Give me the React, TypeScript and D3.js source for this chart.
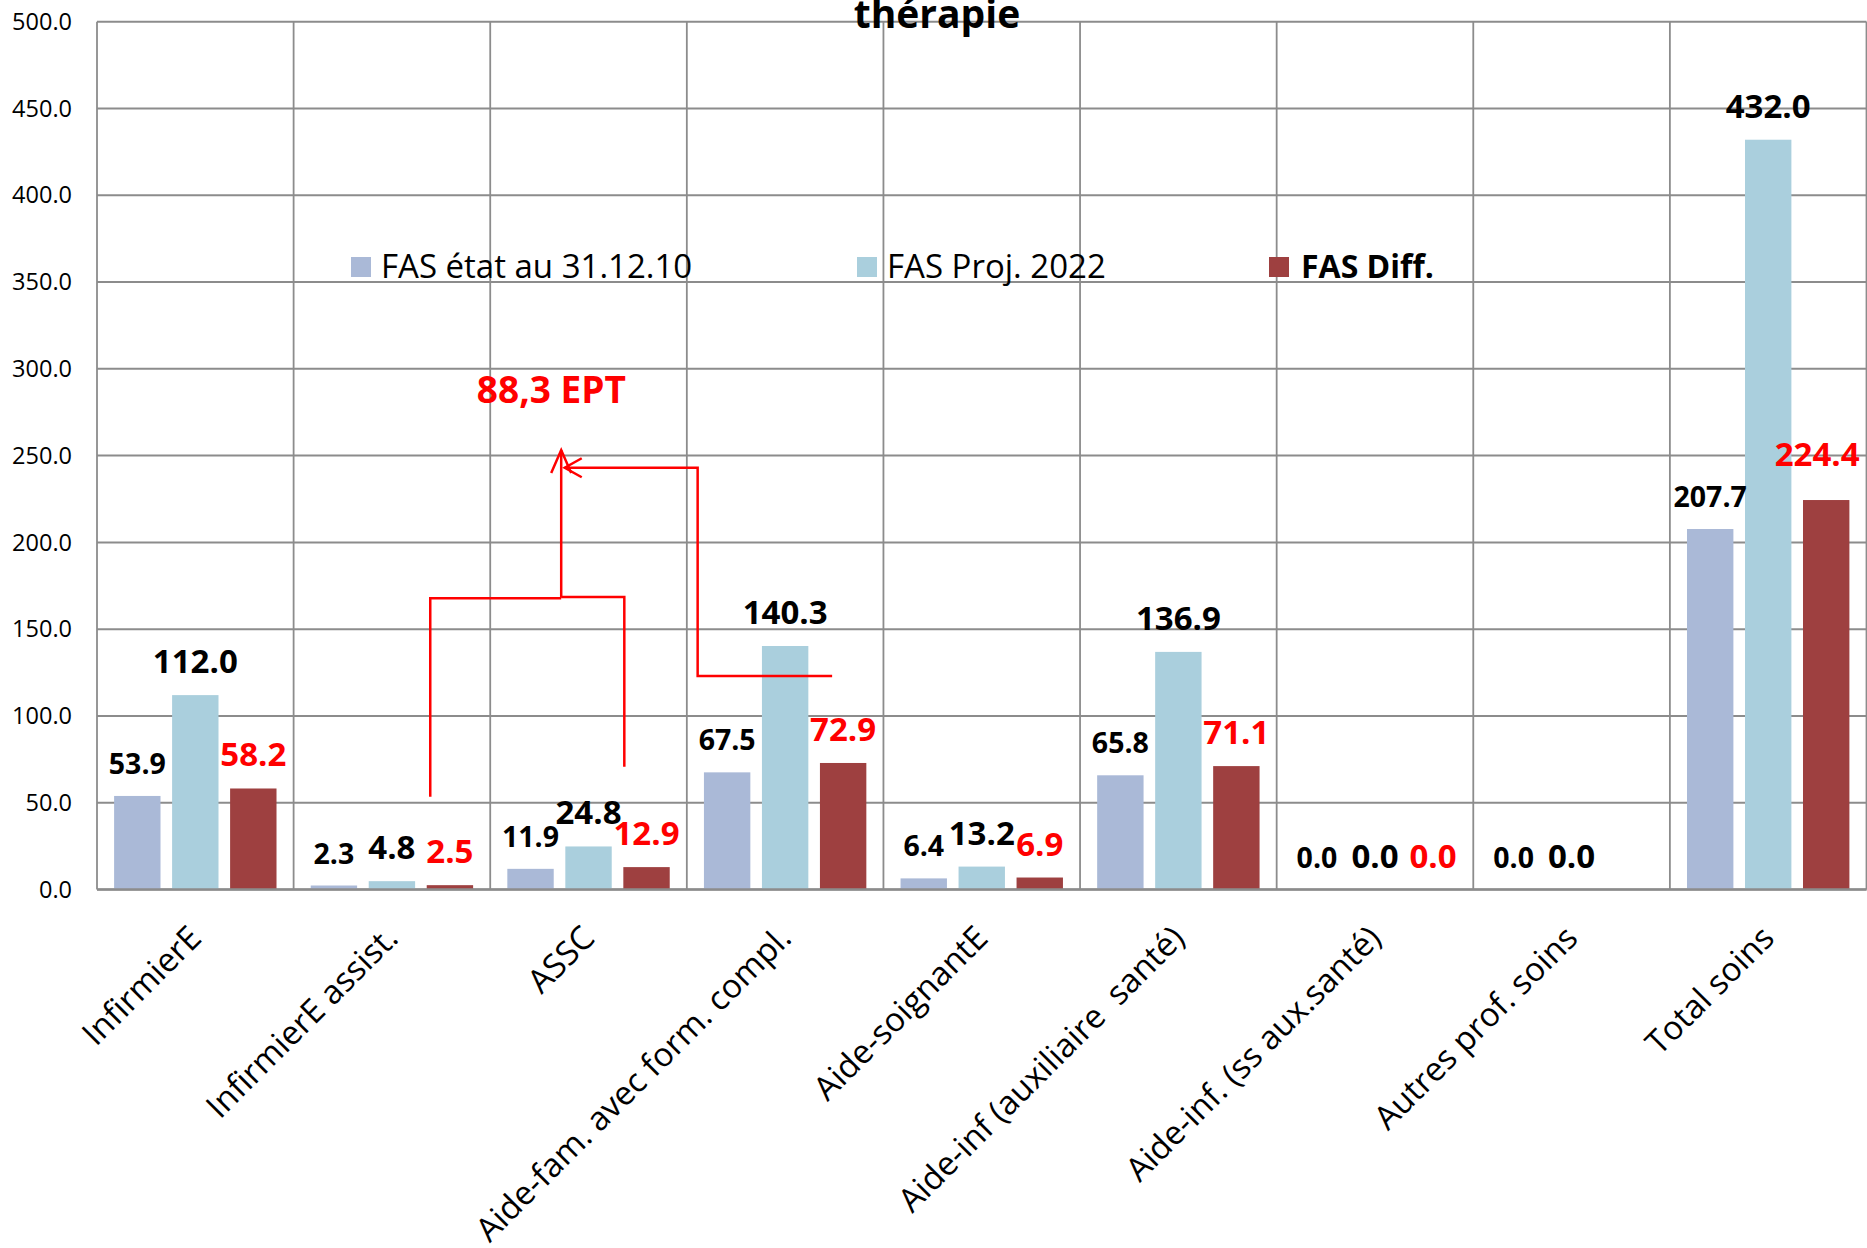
import React from 'react';
import * as d3 from 'd3';

const categories = [
  'InfirmierE',
  'InfirmierE assist.',
  'ASSC',
  'Aide-fam. avec form. compl.',
  'Aide-soignantE',
  'Aide-inf (auxiliaire  santé)',
  'Aide-inf. (ss aux.santé)',
  'Autres prof. soins',
  'Total soins',
];
const fasEtat: (number | null)[] = [53.9, 2.3, 11.9, 67.5, 6.4, 65.8, 0.0, 0.0, 207.7];
const fasProj: (number | null)[] = [112.0, 4.8, 24.8, 140.3, 13.2, 136.9, 0.0, 0.0, 432.0];
const fasDiff: (number | null)[] = [58.2, 2.5, 12.9, 72.9, 6.9, 71.1, 0.0, null, 224.4];
const seriesNames = ['FAS état au 31.12.10', 'FAS Proj. 2022', 'FAS Diff.'];
const seriesColors = ['#AAB9D7', '#AACFDD', '#9E4040'];
const yTicks = [0, 50, 100, 150, 200, 250, 300, 350, 400, 450, 500];
const titleText = 'thérapie';
const annotationText = '88,3 EPT';

// annotation connectors, expressed as [category position, value]
const bracketLeft: [number, number][] = [[1.695, 53.4], [1.695, 167.8], [2.361, 167.8]];
const bracketRight: [number, number][] = [[2.361, 168.6], [2.682, 168.6], [2.682, 70.7]];
const arrowUp: [number, number][] = [[2.361, 168.2], [2.361, 253.2]];
const arrowLeft: [number, number][] = [[3.739, 123], [3.055, 123], [3.055, 243], [2.379, 243]];
const annotationPos: [number, number] = [1.932, 280.5];

const W = 1867;
const H = 1248;
const FONT = '"Open Sans", "Noto Sans", "DejaVu Sans", sans-serif';

export default function App() {
  const left = 97;
  const right = 1866.5;
  const y = d3.scaleLinear().domain([0, 500]).range([889.5, 21.7]);
  const x0 = d3.scaleBand<string>().domain(categories).range([left, right]).padding(0);
  const cw = x0.bandwidth();
  const bw = cw * 0.236;
  const step = cw * 0.295;
  const offs = (cw - (2 * step + bw)) / 2;
  const xs = d3.scaleLinear().domain([0, categories.length]).range([left, right]);
  const series = [fasEtat, fasProj, fasDiff];
  const labelSizes = [28.5, 33, 33];
  const labelColors = ['#000', '#000', '#FF0000'];
  const line = d3.line<[number, number]>().x((d) => xs(d[0])).y((d) => y(d[1]));
  const grid = '#8C8C8C';

  const upTip = [xs(arrowUp[1][0]), y(arrowUp[1][1])];
  const leftTip = [xs(arrowLeft[3][0]), y(arrowLeft[3][1])];

  return (
    <div style={{ position: 'absolute', left: 0, top: 0 }}>
      <svg width={W} height={H} style={{ display: 'block', background: '#fff' }} fontFamily={FONT}>
        <rect x={0} y={0} width={W} height={H} fill="#fff" />
        {/* horizontal grid */}
        {yTicks.map((t) => (
          <line key={'h' + t} x1={left} x2={right} y1={y(t)} y2={y(t)} stroke={grid} strokeWidth={2} />
        ))}
        {/* vertical grid */}
        {d3.range(categories.length + 1).map((i) => (
          <line key={'v' + i} x1={xs(i)} x2={xs(i)} y1={y(500)} y2={y(0)} stroke={grid} strokeWidth={1.8} />
        ))}
        {/* y tick labels */}
        {yTicks.map((t) => (
          <text key={'t' + t} x={72} y={y(t)} dy="0.35em" textAnchor="end" fontSize={23.5} fill="#000">
            {t.toFixed(1)}
          </text>
        ))}
        {/* bars */}
        {series.map((vals, si) =>
          vals.map((v, ci) => {
            if (v == null || v <= 0) return null;
            const bx = (x0(categories[ci]) as number) + offs + si * step;
            return (
              <rect key={'b' + si + '-' + ci} x={bx} y={y(v)} width={bw} height={y(0) - y(v)} fill={seriesColors[si]} />
            );
          })
        )}
        {/* axis line */}
        <line x1={left} x2={right} y1={y(0)} y2={y(0)} stroke={grid} strokeWidth={2.5} />
        {/* value labels */}
        {series.map((vals, si) =>
          vals.map((v, ci) => {
            if (v == null) return null;
            const cx = (x0(categories[ci]) as number) + offs + si * step + bw / 2;
            const nudge = ci === categories.length - 1 && si === 2;
            return (
              <text
                key={'l' + si + '-' + ci}
                x={cx + (nudge ? -9 : 0)}
                y={y(v) - 22 - (nudge ? 12 : 0)}
                textAnchor="middle"
                fontSize={labelSizes[si]}
                fontWeight="bold"
                fill={labelColors[si]}
              >
                {v.toFixed(1)}
              </text>
            );
          })
        )}
        {/* x labels */}
        {categories.map((c) => {
          const cx = (x0(c) as number) + cw / 2 + 8;
          const ly = 940;
          return (
            <text
              key={'x' + c}
              x={cx}
              y={ly}
              textAnchor="end"
              fontSize={33}
              fill="#000"
              transform={`rotate(-45 ${cx} ${ly})`}
              style={{ whiteSpace: 'pre' }}
            >
              {c}
            </text>
          );
        })}
        {/* legend */}
        {[
          [351, 381],
          [857, 887],
          [1269, 1301],
        ].map(([sx, tx], i) => (
          <g key={'lg' + i}>
            <rect x={sx} y={257} width={20} height={20} fill={seriesColors[i]} />
            <text x={tx} y={278} fontSize={i === 2 ? 32 : 33} fontWeight={i === 2 ? 'bold' : 'normal'} fill="#000">
              {seriesNames[i]}
            </text>
          </g>
        ))}
        {/* title */}
        <text x={937} y={28} textAnchor="middle" fontSize={39} fontWeight="bold" fill="#000">
          {titleText}
        </text>
        {/* annotation */}
        <g stroke="#FF0000" strokeWidth={2.5} fill="none">
          <path d={line(bracketLeft) as string} />
          <path d={line(bracketRight) as string} />
          <path d={line(arrowUp) as string} />
          <path d={line(arrowLeft) as string} />
          <path d={`M${upTip[0] - 10},${upTip[1] + 23} L${upTip[0]},${upTip[1]} L${upTip[0] + 10},${upTip[1] + 23}`} />
          <path d={`M${leftTip[0] + 17},${leftTip[1] - 9.5} L${leftTip[0]},${leftTip[1]} L${leftTip[0] + 17},${leftTip[1] + 9.5}`} />
        </g>
        <text
          x={xs(annotationPos[0])}
          y={y(annotationPos[1])}
          fontSize={37}
          fontWeight="bold"
          fill="#FF0000"
        >
          {annotationText}
        </text>
      </svg>
    </div>
  );
}
